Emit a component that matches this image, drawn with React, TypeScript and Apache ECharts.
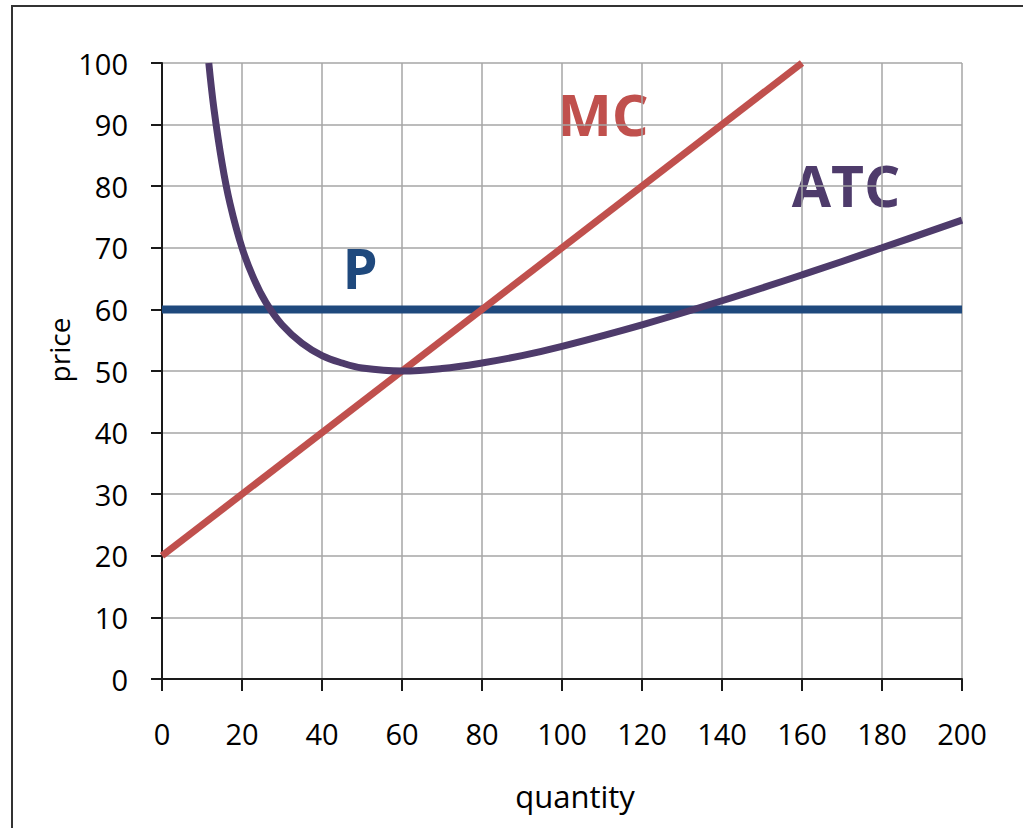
import React, { useEffect, useRef } from "react";
import * as echarts from "echarts";

const xTicks = [0, 20, 40, 60, 80, 100, 120, 140, 160, 180, 200];
const yTicks = [0, 10, 20, 30, 40, 50, 60, 70, 80, 90, 100];

const mcQ = [0, 160];
const mcPrice = [20, 100];

const pQ = [0, 200];
const pPrice = [60, 60];

const atcQ = [11.7, 13, 15, 17, 20, 23, 26, 30, 35, 40, 45, 50, 60, 70, 80, 90, 100, 120, 140, 160, 180, 200];
const atcPrice = [100, 92.5, 83.8, 77.2, 70, 64.9, 61.1, 57.5, 54.5, 52.5, 51.3, 50.5, 50, 50.4, 51.3, 52.5, 54, 57.5, 61.4, 65.6, 70, 74.5];

const FONT = "'Open Sans', 'Liberation Sans', sans-serif";

export default function App() {
  const ref = useRef<HTMLDivElement>(null);
  useEffect(() => {
    if (!ref.current) return;
    const chart = echarts.init(ref.current, null, { renderer: "svg" });
    const zip = (a: number[], b: number[]) => a.map((v, i) => [v, b[i]]);
    chart.setOption({
      animation: false,
      backgroundColor: "#ffffff",
      grid: { left: 162, top: 63, width: 800, height: 616, containLabel: false },
      xAxis: {
        type: "value",
        min: xTicks[0],
        max: xTicks[xTicks.length - 1],
        interval: xTicks[1] - xTicks[0],
        axisLine: { show: true, onZero: false, lineStyle: { color: "#1a1a1a", width: 2 } },
        axisTick: { show: true, inside: false, length: 12, lineStyle: { color: "#1a1a1a", width: 2 } },
        axisLabel: { color: "#000", fontSize: 29, fontFamily: FONT, margin: 40 },
        splitLine: { show: true, lineStyle: { color: "#a6a6a6", width: 1.5 } },
      },
      yAxis: {
        type: "value",
        min: yTicks[0],
        max: yTicks[yTicks.length - 1],
        interval: yTicks[1] - yTicks[0],
        axisLine: { show: true, onZero: false, lineStyle: { color: "#1a1a1a", width: 2 } },
        axisTick: { show: true, inside: false, length: 11, lineStyle: { color: "#1a1a1a", width: 2 } },
        axisLabel: { color: "#000", fontSize: 29, fontFamily: FONT, margin: 34 },
        splitLine: { show: true, lineStyle: { color: "#a6a6a6", width: 1.5 } },
      },
      series: [
        {
          name: "P",
          type: "line",
          data: zip(pQ, pPrice),
          symbol: "none",
          lineStyle: { color: "#1f497d", width: 8 },
          z: 3,
        },
        {
          name: "MC",
          type: "line",
          data: zip(mcQ, mcPrice),
          symbol: "none",
          lineStyle: { color: "#c0504d", width: 7 },
          z: 4,
        },
        {
          name: "ATC",
          type: "line",
          data: zip(atcQ, atcPrice),
          symbol: "none",
          smooth: 0.4,
          lineStyle: { color: "#4e3b6b", width: 7 },
          z: 5,
        },
      ],
      graphic: [
        {
          type: "rect",
          shape: { x: 12, y: 6, width: 1100, height: 1000 },
          style: { fill: "none", stroke: "#333333", lineWidth: 2 },
          silent: true,
        },
        {
          type: "text",
          x: 59,
          y: 350,
          rotation: Math.PI / 2,
          style: { text: "price", fontSize: 28, fontFamily: FONT, fill: "#000", align: "center", verticalAlign: "middle" },
        },
        {
          type: "text",
          x: 575,
          y: 796,
          style: { text: "quantity", fontSize: 31, fontFamily: FONT, fill: "#000", align: "center", verticalAlign: "middle" },
        },
        {
          type: "text",
          x: 603,
          y: 113,
          style: { text: "MC", fontSize: 58, fontWeight: "bold", fontFamily: FONT, fill: "#c0504d", align: "center", verticalAlign: "middle" },
        },
        {
          type: "text",
          x: 846,
          y: 185,
          style: { text: "ATC", fontSize: 57, fontWeight: "bold", fontFamily: FONT, fill: "#4e3b6b", align: "center", verticalAlign: "middle" },
        },
        {
          type: "text",
          x: 360,
          y: 267,
          style: { text: "P", fontSize: 56, fontWeight: "bold", fontFamily: FONT, fill: "#1f497d", align: "center", verticalAlign: "middle" },
        },
      ],
    });
    return () => chart.dispose();
  }, []);
  return (
    <div
      ref={ref}
      style={{ position: "fixed", left: 0, top: 0, width: 1023, height: 828, background: "#fff" }}
    />
  );
}
